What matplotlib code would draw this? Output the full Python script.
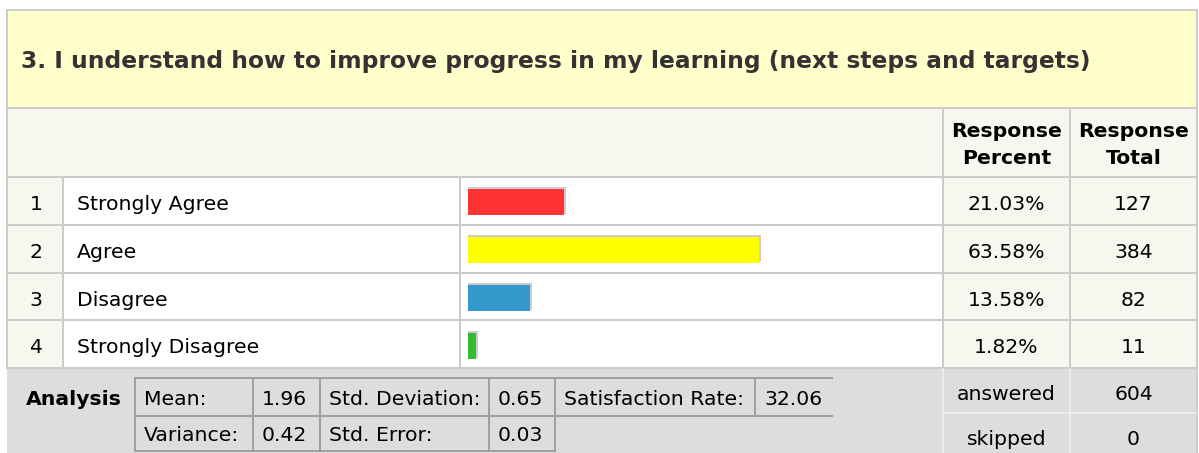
import matplotlib
matplotlib.use('Agg')
import matplotlib.pyplot as plt
from matplotlib.patches import Rectangle
import numpy as np

# ---------------- data ----------------
title = "3. I understand how to improve progress in my learning (next steps and targets)"
row_numbers = ["1", "2", "3", "4"]
categories = ["Strongly Agree", "Agree", "Disagree", "Strongly Disagree"]
percents = [21.03, 63.58, 13.58, 1.82]
totals = [127, 384, 82, 11]
bar_colors = ["#FF3333", "#FFFF00", "#3399CC", "#33BB33"]
header_percent = "Response\nPercent"
header_total = "Response\nTotal"
analysis_label = "Analysis"
analysis_row1 = [("Mean:", "1.96"), ("Std. Deviation:", "0.65"), ("Satisfaction Rate:", "32.06")]
analysis_row2 = [("Variance:", "0.42"), ("Std. Error:", "0.03")]
summary_labels = ["answered", "skipped"]
summary_values = [604, 0]

# ---------------- style ----------------
W, H = 1199, 453
FS = 14.7
BORDER = "#CCCCCC"
INNER = "#A0A0A0"
YELLOW_BG = "#FFFFCC"
BEIGE = "#F7F7EF"
GRAY = "#DDDDDD"
LW = 2 * 72 / 100

fig = plt.figure(figsize=(W / 100, H / 100), dpi=100)
ax = fig.add_axes([0, 0, 1, 1])
ax.set_xlim(0, W)
ax.set_ylim(H, 0)
ax.axis('off')

L, R = 7, 1197
TOP, TITLE_B, HEAD_B = 10, 108, 177
ROW_H = 47.75
N = len(categories)
row_tops = [HEAD_B + i * ROW_H for i in range(N + 1)]
BODY_B = row_tops[-1]
C_NUM, C_BAR, C_PCT, C_TOT = 63, 460, 943, 1070


def rect(x0, y0, x1, y1, c, z=0):
    ax.add_patch(Rectangle((x0, y0), x1 - x0, y1 - y0, facecolor=c, edgecolor='none', zorder=z))


def hline(y, x0, x1, c=BORDER, z=2):
    ax.plot([x0, x1], [y, y], color=c, lw=LW, solid_capstyle='butt', zorder=z)


def vline(x, y0, y1, c=BORDER, z=2):
    ax.plot([x, x], [y0, y1], color=c, lw=LW, solid_capstyle='butt', zorder=z)


# backgrounds
rect(L, TOP, R, TITLE_B, YELLOW_BG)
rect(L, TITLE_B, R, HEAD_B, BEIGE)
rect(L, HEAD_B, C_NUM, BODY_B, BEIGE)
rect(C_NUM, HEAD_B, C_PCT, BODY_B, "white")
rect(C_PCT, HEAD_B, R, BODY_B, BEIGE)
rect(L, BODY_B, R, H, GRAY)

# grid lines
for y in [TOP, TITLE_B, HEAD_B] + row_tops[1:]:
    hline(y, L - 1, R + 1)
vline(L, TOP - 1, BODY_B)
vline(R, TOP - 1, H)
for x in (C_NUM, C_BAR):
    vline(x, HEAD_B, BODY_B + 1)
for x in (C_PCT, C_TOT):
    vline(x, TITLE_B, BODY_B)
    vline(x, BODY_B, H, c="#EBEBEB")
hline(413, C_PCT, R, c="#EBEBEB")

# title
ax.text(21, 68.3, title, fontsize=16.8, fontweight='bold', color="#333333",
        ha='left', va='baseline', zorder=5)

# header
for txt, cx in ((header_percent, (C_PCT + C_TOT) / 2), (header_total, (C_TOT + R) / 2)):
    a, b = txt.split("\n")
    ax.text(cx, 136.7, a, fontsize=FS, fontweight='bold', ha='center', va='baseline', zorder=5)
    ax.text(cx, 164.0, b, fontsize=FS, fontweight='bold', ha='center', va='baseline', zorder=5)

# body text
for i in range(N):
    base = row_tops[i] + 33.2
    ax.text((L + C_NUM) / 2 + 1, base, row_numbers[i], fontsize=FS, ha='center', va='baseline', zorder=5)
    ax.text(77, base, categories[i], fontsize=FS, ha='left', va='baseline', zorder=5)
    ax.text((C_PCT + C_TOT) / 2, base, f"{percents[i]:.2f}%", fontsize=FS, ha='center', va='baseline', zorder=5)
    ax.text((C_TOT + R) / 2, base, f"{totals[i]}", fontsize=FS, ha='center', va='baseline', zorder=5)

# bars
BAR_X0, PX_PER_PCT = 468, 4.57
bax = fig.add_axes([BAR_X0 / W, 1 - BODY_B / H, 100 * PX_PER_PCT / W, (BODY_B - HEAD_B) / H])
bax.set_xlim(0, 100)
bax.set_ylim(N - 0.5, -0.5)
bax.axis('off')
bax.patch.set_alpha(0)
ypos = np.arange(N)
pv = np.array(percents)
bh = 27 / ROW_H
bax.barh(ypos - 0 / ROW_H, pv + 2 / PX_PER_PCT, height=bh, color="#CCCCCC", zorder=1)
bax.barh(ypos + 1.5 / ROW_H, pv, height=bh - 1 / ROW_H, color=bar_colors, zorder=2)

# analysis
ax.text(26, 405, analysis_label, fontsize=FS, fontweight='bold', ha='left', va='baseline', zorder=5)
A_TOP, A_MID, A_BOT = 378, 416, 451
cols1 = [135, 253, 320, 489, 555, 755, 833]
cols2 = [135, 253, 320, 489, 555]
hline(A_TOP, cols1[0] - 1, cols1[-1], c=INNER)
hline(A_MID, cols1[0] - 1, cols1[-1], c=INNER)
hline(A_BOT, cols2[0] - 1, cols2[-1] + 1, c=INNER)
for x in cols1[:-1]:
    vline(x, A_TOP, A_MID, c=INNER)
for x in cols2:
    vline(x, A_MID, A_BOT, c=INNER)
for k, (lab, val) in enumerate(analysis_row1):
    ax.text(cols1[2 * k] + 9, 405, lab, fontsize=FS, ha='left', va='baseline', zorder=5)
    ax.text(cols1[2 * k + 1] + 9, 405, val, fontsize=FS, ha='left', va='baseline', zorder=5)
for k, (lab, val) in enumerate(analysis_row2):
    ax.text(cols2[2 * k] + 9, 441, lab, fontsize=FS, ha='left', va='baseline', zorder=5)
    ax.text(cols2[2 * k + 1] + 9, 441, val, fontsize=FS, ha='left', va='baseline', zorder=5)

# answered / skipped
for base, lab, val in zip((400, 445), summary_labels, summary_values):
    ax.text((C_PCT + C_TOT) / 2, base, lab, fontsize=FS, ha='center', va='baseline', zorder=5)
    ax.text((C_TOT + R) / 2, base, f"{val}", fontsize=FS, ha='center', va='baseline', zorder=5)

fig.savefig("out.png", dpi=100)
